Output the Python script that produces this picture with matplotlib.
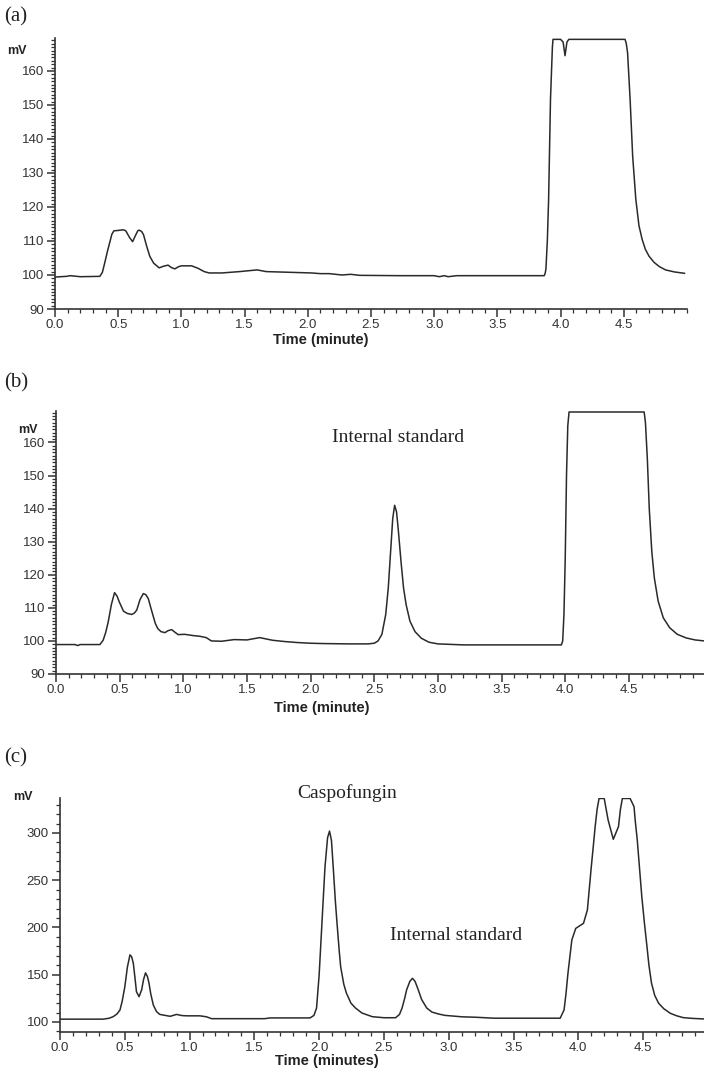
import matplotlib
matplotlib.use("Agg")
import matplotlib.pyplot as plt
from matplotlib.ticker import MultipleLocator, FixedLocator, FormatStrFormatter

# panel (a): blank
t_a = [0.0, 0.09, 0.12, 0.2, 0.355, 0.375, 0.395, 0.415, 0.434, 0.45, 0.466, 0.5,
       0.54, 0.56, 0.59, 0.614, 0.635, 0.655, 0.666, 0.685, 0.70, 0.725, 0.75, 0.78,
       0.824, 0.86, 0.895, 0.92, 0.948, 0.975, 1.0, 1.08, 1.13, 1.18, 1.22, 1.32,
       1.46, 1.6, 1.67, 1.85, 2.03, 2.1, 2.17, 2.27, 2.34, 2.41, 2.73, 3.0, 3.04,
       3.08, 3.11, 3.18, 3.82, 3.87, 3.878, 3.884, 3.895, 3.905, 3.92, 3.935, 3.94,
       4.0, 4.02, 4.035, 4.05, 4.065, 4.51, 4.52, 4.53, 4.55, 4.57, 4.595, 4.62,
       4.645, 4.67, 4.70, 4.74, 4.78, 4.83, 4.9, 4.98]
mv_a = [99.4, 99.6, 99.8, 99.5, 99.6, 100.8, 103.8, 107.0, 109.7, 112.0, 113.0, 113.1,
        113.3, 113.0, 111.0, 109.8, 111.5, 113.0, 113.2, 112.8, 111.9, 108.5, 105.5,
        103.5, 102.1, 102.6, 102.9, 102.2, 101.8, 102.4, 102.7, 102.7, 102.0, 101.0,
        100.6, 100.6, 101.0, 101.5, 101.0, 100.8, 100.6, 100.4, 100.4, 100.0, 100.2,
        99.9, 99.8, 99.8, 99.5, 99.8, 99.5, 99.8, 99.8, 99.8, 100.5, 101.8, 110.0,
        122.0, 151.6, 167.0, 169.3, 169.3, 168.5, 164.5, 168.5, 169.3, 169.3, 168.0,
        165.3, 151.6, 135.0, 122.3, 114.5, 110.5, 107.6, 105.5, 103.7, 102.5, 101.5,
        100.9, 100.5]

# panel (b): internal standard
t_b = [0.0, 0.15, 0.17, 0.19, 0.345, 0.37, 0.39, 0.41, 0.435, 0.46, 0.48, 0.497,
       0.53, 0.56, 0.595, 0.615, 0.634, 0.66, 0.686, 0.705, 0.725, 0.745, 0.765,
       0.78, 0.80, 0.825, 0.856, 0.88, 0.909, 0.935, 0.96, 1.01, 1.08, 1.13, 1.18,
       1.22, 1.3, 1.4, 1.5, 1.6, 1.7, 1.8, 1.9, 2.0, 2.1, 2.3, 2.45, 2.5, 2.53, 2.56,
       2.59, 2.61, 2.63, 2.645, 2.66, 2.675, 2.69, 2.71, 2.73, 2.75, 2.78, 2.82, 2.87,
       2.93, 3.0, 3.2, 3.97, 3.98, 3.99, 4.0, 4.01, 4.02, 4.03, 4.62, 4.63, 4.645,
       4.66, 4.68, 4.7, 4.73, 4.77, 4.82, 4.88, 4.95, 5.02, 5.09]
mv_b = [98.9, 98.9, 98.6, 98.9, 98.9, 100.2, 102.5, 105.7, 111.0, 114.6, 113.5, 111.8,
        109.0, 108.3, 108.0, 108.4, 109.3, 112.5, 114.3, 114.0, 112.8, 110.0, 107.3,
        105.3, 103.7, 102.8, 102.5, 103.1, 103.4, 102.6, 101.9, 102.0, 101.6, 101.4,
        101.0, 100.0, 99.9, 100.4, 100.3, 101.0, 100.2, 99.8, 99.5, 99.3, 99.2, 99.1,
        99.1, 99.3, 100.0, 102.0, 108.0, 116.0, 128.0, 137.0, 141.0, 139.0, 133.0,
        124.0, 116.0, 111.0, 106.0, 102.8, 100.8, 99.6, 99.1, 98.8, 98.8, 100.0, 108.0,
        125.0, 150.0, 165.0, 169.2, 169.2, 166.0, 155.0, 140.0, 127.0, 119.0, 112.0,
        107.0, 104.0, 102.0, 100.9, 100.3, 100.0]

# panel (c): caspofungin + internal standard
t_c = [0.0, 0.334, 0.38, 0.41, 0.44, 0.463, 0.48, 0.50, 0.52, 0.54, 0.553, 0.566,
       0.58, 0.59, 0.61, 0.63, 0.645, 0.66, 0.675, 0.687, 0.70, 0.72, 0.745, 0.77,
       0.85, 0.90, 0.94, 0.98, 1.08, 1.13, 1.17, 1.58, 1.62, 1.93, 1.96, 1.98, 2.0,
       2.02, 2.045, 2.065, 2.08, 2.095, 2.11, 2.125, 2.14, 2.155, 2.166, 2.19, 2.21,
       2.245, 2.28, 2.33, 2.41, 2.5, 2.59, 2.62, 2.64, 2.66, 2.675, 2.70, 2.72, 2.74,
       2.765, 2.79, 2.83, 2.87, 2.92, 2.97, 3.1, 3.21, 3.35, 3.86, 3.89, 3.905, 3.92,
       3.95, 3.98, 4.04, 4.07, 4.10, 4.115, 4.13, 4.145, 4.16, 4.20, 4.23, 4.27,
       4.31, 4.325, 4.34, 4.40, 4.43, 4.44, 4.455, 4.49, 4.51, 4.53, 4.545, 4.565,
       4.59, 4.62, 4.66, 4.71, 4.76, 4.81, 4.88, 4.97]
mv_c = [103.0, 103.0, 104.0, 105.6, 108.5, 112.7, 122.0, 137.0, 158.0, 171.0, 169.0,
        162.0, 145.0, 132.0, 126.8, 133.9, 145.0, 152.0, 148.0, 141.0, 130.0, 118.0,
        111.0, 108.0, 106.0, 108.0, 106.8, 106.5, 106.5, 105.5, 103.5, 103.5, 104.3,
        104.3, 107.0, 114.8, 150.0, 200.8, 264.0, 295.0, 302.0, 292.0, 260.8, 228.0,
        200.8, 175.0, 158.5, 140.0, 130.7, 120.0, 114.8, 109.5, 105.6, 104.5, 104.5,
        108.0, 114.8, 125.0, 134.0, 143.0, 146.2, 143.0, 134.0, 124.0, 114.8, 110.5,
        108.5, 107.0, 105.5, 105.0, 104.0, 104.0, 112.7, 130.0, 151.5, 186.8, 199.0,
        204.4, 218.5, 264.0, 285.0, 306.7, 325.0, 336.5, 336.5, 313.7, 293.3, 306.7,
        325.0, 336.5, 336.5, 327.8, 312.0, 292.6, 232.6, 205.0, 179.7, 160.0, 141.0,
        128.0, 119.8, 114.0, 109.2, 106.5, 104.6, 103.8, 103.2]

W, H = 704, 1072
ink = "#2a2a2a"
axis_col = "#333333"
x_major = [0.0, 0.5, 1.0, 1.5, 2.0, 2.5, 3.0, 3.5, 4.0, 4.5]


def box(left, bottom, right, top):
    # pixel box -> figure fraction rect
    return [left / W, 1 - bottom / H, (right - left) / W, (bottom - top) / H]


def style(ax, ylim, xlim, yticks, yminor, xlabel, label_xy):
    ax.set_xlim(*xlim)
    ax.set_ylim(*ylim)
    for s in ["top", "right"]:
        ax.spines[s].set_visible(False)
    for s in ["left", "bottom"]:
        ax.spines[s].set_color(axis_col)
        ax.spines[s].set_linewidth(1.2)
    ax.xaxis.set_major_locator(FixedLocator(x_major))
    ax.xaxis.set_minor_locator(MultipleLocator(0.1))
    ax.xaxis.set_major_formatter(FormatStrFormatter("%.1f"))
    ax.yaxis.set_major_locator(FixedLocator(yticks))
    ax.yaxis.set_minor_locator(MultipleLocator(yminor))
    ax.tick_params(which="major", length=6, width=1.1, color=axis_col,
                   labelcolor="#333333", labelsize=9.5, pad=2)
    ax.tick_params(axis="x", which="major", pad=1.5)
    ax.tick_params(which="minor", length=3, width=0.9, color=axis_col)
    for lab in ax.get_xticklabels() + ax.get_yticklabels():
        lab.set_fontfamily("Liberation Sans")
    ax.set_xlabel(xlabel, fontfamily="Liberation Sans", fontsize=10.5,
                  fontweight="bold", color="#222222", va="center")
    ax.xaxis.set_label_coords(*label_xy)
    ax.patch.set_alpha(0)


fig = plt.figure(figsize=(W / 100, H / 100), dpi=100)

ax_a = fig.add_axes(box(55, 309, 687, 38))
ax_a.plot(t_a, mv_a, color=ink, lw=1.1)
style(ax_a, (90, 169.7), (0, 5.0), list(range(90, 170, 10)), 1,
      "Time (minute)", (0.42, -0.114))

ax_b = fig.add_axes(box(56, 674, 704, 411))
ax_b.plot(t_b, mv_b, color=ink, lw=1.1)
style(ax_b, (90, 169.5), (0, 5.09), list(range(90, 170, 10)), 1,
      "Time (minute)", (0.41, -0.129))

ax_c = fig.add_axes(box(60, 1032, 704, 798))
ax_c.plot(t_c, mv_c, color=ink, lw=1.1)
style(ax_c, (89.4, 337), (0, 4.97), list(range(100, 301, 50)), 10,
      "Time (minutes)", (0.415, -0.126))

# units
unit = dict(fontfamily="Liberation Sans", fontsize=9, fontweight="bold",
            va="center", color="#222222")
fig.text(7 / W, 1 - 51 / H, "mV", **unit)
fig.text(18 / W, 1 - 430 / H, "mV", **unit)
fig.text(13 / W, 1 - 797 / H, "mV", **unit)

# panel letters
serif = dict(fontfamily="Liberation Serif", color="#222222")
fig.text(4 / W, 1 - 17 / H, "(a)", fontsize=15, va="center", **serif)
fig.text(4 / W, 1 - 383 / H, "(b)", fontsize=15, va="center", **serif)
fig.text(4 / W, 1 - 758 / H, "(c)", fontsize=15, va="center", **serif)

# peak annotations
fig.text(398 / W, 1 - 437 / H, "Internal standard", fontsize=14, ha="center",
         va="center", **serif)
fig.text(347 / W, 1 - 793 / H, "Caspofungin", fontsize=14, ha="center",
         va="center", **serif)
fig.text(456 / W, 1 - 935 / H, "Internal standard", fontsize=14, ha="center",
         va="center", **serif)

fig.savefig("out.png", dpi=100, facecolor="white")
